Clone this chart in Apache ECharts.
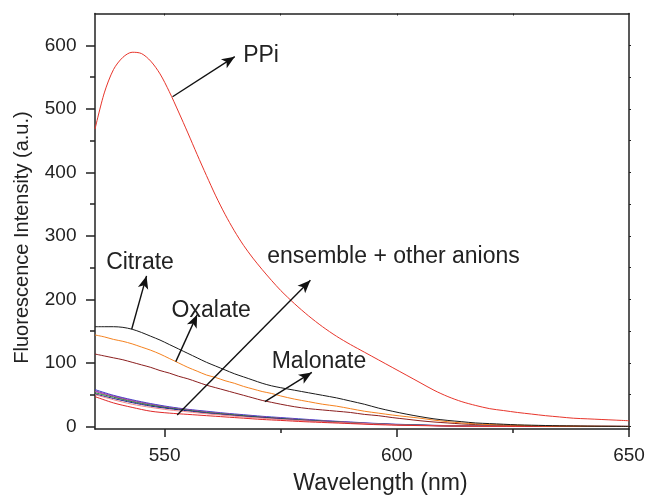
<!DOCTYPE html>
<html>
<head>
<meta charset="utf-8">
<script src="https://cdn.jsdelivr.net/npm/echarts@6/dist/echarts.min.js"></script>
<style>
html,body{margin:0;padding:0;background:#fff;}
#chart{width:648px;height:498px;}
</style>
</head>
<body>
<div id="chart"></div>
<script>
// ---- data ----
var wavelengths = [535,537,539,541,543,545,547,549,551,553,555,557,559,561,563,565,567,569,571,573,575,578,581,584,587,590,593,596,599,602,605,608,611,614,617,620,623,626,629,632,635,638,641,644,647,650];
var ppi      = [468,525,562,581,589,587,575,555,527,495,462,428,395,363,334,308,285,265,247,230,214,193,174,157,142,129,117,105,93,81,69,57,47,39,33,28,25,22,19.5,17,15,13,12,11,10,9];
var citrate  = [157,157,157,156,153,148,142,136,129,122,115,108,101,95,89,83,78,73,68,64,61,57,53,49,45,40,35,29,24,19.5,15.5,12,9.5,7.5,5.5,4.5,3.5,2.5,2,1.5,1,0.8,0.5,0.3,0.2,0];
var oxalate  = [144,141,137,134,130,125,120,114,107,100,93,87,81,77,72,68,63,59,55,52,48,43,39,35,32,28,24,21,18,15.5,13,10,7.5,5.5,4,3,2.5,2,1.5,1,0.8,0.6,0.4,0.3,0.2,0];
var malonate = [114,111,108,105,101,97,93,88,84,79,75,70,65,61,57,53,49,45,41,38,35,31,28,26,24,22,19,17,14,11.5,9,7,5.5,4,3,2.5,2,1.5,1,0.8,0.6,0.4,0.3,0.2,0.1,0];

var ensembleWavelengths = [535,539,543,547,551,555,559,563,567,571,575,580,585,590,595,600,610,620,635,650];
var ensBlue   = [58,49,42,36,31,27,24,21,18.5,16,14,11.5,9,7,5,3.5,1.5,0.5,0,0];
var ensPurple = [56,48,41,35,30,26.5,23,20,17.5,15,13,10.5,8.5,6.5,4.5,3,1.2,0.4,0,0];
var ensGreen  = [53,46,39,33.5,29,25.5,22,19.5,17,14.5,12.5,10,8,6,4.2,3,1.2,0.4,0,0];
var ensMagenta= [55,47,40,34,29.5,26,22.5,20,17,14.8,12.8,10.2,8.2,6.2,4.3,3,1.1,0.3,0,0];
var ensNavy   = [51,44,37.5,32,28,24.5,21,18.5,16,14,12,9.5,7.5,5.5,4,2.8,1,0.3,0,0];
var ensPink   = [50,42,35,30,26,23,20,17.5,15,13,11,9,7,5.5,4,2.5,1,0.3,0,0];
var ensRed    = [47,37,30,24,21,19,17,15,13,11,9.5,7.5,6,4.5,3,2,0.8,0.2,0,0];

var xMajorTicks = [550,600,650];
var xMinorTicks = [575,625];
var xTopTicks = [550,575,600,625];
var yMajorTicks = [0,100,200,300,400,500,600];
var yMinorTicks = [50,150,250,350,450,550];
var yRightTicks = [0,50,100,150,200,250,300,350,400,450,500,550,600];

// annotation arrows: [startX, startY, endX, endY] in data units
var arrows = [
  [551.7,519,565.1,582],   // PPi
  [542.9,153,546.1,237],   // Citrate
  [552.4,102,557.0,176],   // Oxalate
  [571.6,39,581.7,85],     // Malonate
  [552.7,18,581.4,230]     // ensemble
];
var annotationTexts = ['PPi','Citrate','Oxalate','Malonate','ensemble + other anions'];
var annotationCoords = [[566.9,584],[537.4,258],[551.5,181.5],[573.05,102],[572.1,268]];

// ---- chart ----
var chart = echarts.init(document.getElementById('chart'), null, {renderer:'canvas'});
function zip(xs, ys){ return xs.map(function(x,i){ return [x, ys[i]]; }); }
var FONT = 'Liberation Sans, Arial, Helvetica, sans-serif';
var AX = '#222';

function lineSeries(name, xs, ys, color){
  return {
    name:name, type:'line', data: zip(xs, ys), showSymbol:false, smooth:0.3,
    lineStyle:{color:color, width:1}, itemStyle:{color:color}, silent:true, z:2
  };
}

var series = [
  lineSeries('ensBlue', ensembleWavelengths, ensBlue, '#4040d0'),
  lineSeries('ensPurple', ensembleWavelengths, ensPurple, '#7a3fa0'),
  lineSeries('ensMagenta', ensembleWavelengths, ensMagenta, '#c040c0'),
  lineSeries('ensGreen', ensembleWavelengths, ensGreen, '#2e8b2e'),
  lineSeries('ensNavy', ensembleWavelengths, ensNavy, '#20208c'),
  lineSeries('ensPink', ensembleWavelengths, ensPink, '#f08c8c'),
  lineSeries('ensRed', ensembleWavelengths, ensRed, '#e02828'),
  lineSeries('Malonate', wavelengths, malonate, '#8b1e1e'),
  lineSeries('Oxalate', wavelengths, oxalate, '#f5821f'),
  lineSeries('Citrate', wavelengths, citrate, '#1a1a1a'),
  lineSeries('PPi', wavelengths, ppi, '#e8352b'),
  {
    name:'annotations', type:'line', data:[], silent:true, z:10,
    markLine:{
      silent:true, animation:false,
      symbol:['none','arrow'], symbolSize:[8,13],
      label:{show:false},
      lineStyle:{color:'#111', width:1.4, type:'solid'},
      emphasis:{disabled:true},
      data: arrows.map(function(a){ return [{coord:[a[0],a[1]]},{coord:[a[2],a[3]]}]; })
    },
    markPoint:{
      silent:true, animation:false,
      symbol:'circle', symbolSize:0,
      label:{show:true, position:'right', distance:0, formatter:'{b}',
             color:'#222', fontSize:23, fontFamily:FONT},
      data: annotationTexts.map(function(t,i){ return {name:t, coord:annotationCoords[i], value:0}; })
    }
  }
];

var option = {
  animation:false,
  backgroundColor:'#fff',
  grid:{left:95, right:19, top:13.5, bottom:69, containLabel:false},
  xAxis:[
    {type:'value', position:'bottom', min:535, max:650,
     axisLine:{show:true, onZero:false, lineStyle:{color:AX, width:1.5}},
     axisTick:{show:true, inside:false, length:8, customValues:xMajorTicks, lineStyle:{color:AX, width:1.5}},
     axisLabel:{show:true, customValues:xMajorTicks, margin:17, color:'#222', fontSize:19, fontFamily:FONT},
     splitLine:{show:false}},
    {type:'value', position:'bottom', min:535, max:650,
     axisLine:{show:false, onZero:false},
     axisTick:{show:true, inside:false, length:4, customValues:xMinorTicks, lineStyle:{color:AX, width:1.5}},
     axisLabel:{show:false}, splitLine:{show:false}},
    {type:'value', position:'top', min:535, max:650,
     axisLine:{show:true, onZero:false, lineStyle:{color:AX, width:1.5}},
     axisTick:{show:true, inside:true, length:2, customValues:xTopTicks, lineStyle:{color:AX, width:1}},
     axisLabel:{show:false}, splitLine:{show:false}}
  ],
  yAxis:[
    {type:'value', position:'left', min:-4, max:650,
     axisLine:{show:true, onZero:false, lineStyle:{color:AX, width:1.5}},
     axisTick:{show:true, inside:false, length:9, customValues:yMajorTicks, lineStyle:{color:AX, width:1.5}},
     axisLabel:{show:true, customValues:yMajorTicks, margin:18.5, color:'#222', fontSize:19, fontFamily:FONT},
     splitLine:{show:false}},
    {type:'value', position:'left', min:-4, max:650,
     axisLine:{show:false, onZero:false},
     axisTick:{show:true, inside:false, length:5, customValues:yMinorTicks, lineStyle:{color:AX, width:1.5}},
     axisLabel:{show:false}, splitLine:{show:false}},
    {type:'value', position:'right', min:-4, max:650,
     axisLine:{show:true, onZero:false, lineStyle:{color:AX, width:1.5}},
     axisTick:{show:true, inside:false, length:2, customValues:yRightTicks, lineStyle:{color:AX, width:1}},
     axisLabel:{show:false}, splitLine:{show:false}}
  ],
  graphic:[
    {type:'text', x:380.5, y:484, silent:true,
     style:{text:'Wavelength (nm)', fill:'#222', font:'23px ' + FONT, textAlign:'center', textVerticalAlign:'middle'}},
    {type:'text', x:22.5, y:237.5, rotation:Math.PI/2, silent:true,
     style:{text:'Fluorescence Intensity (a.u.)', fill:'#222', font:'20px ' + FONT, textAlign:'center', textVerticalAlign:'middle'}}
  ],
  series: series
};
chart.setOption(option);
</script>
</body>
</html>
